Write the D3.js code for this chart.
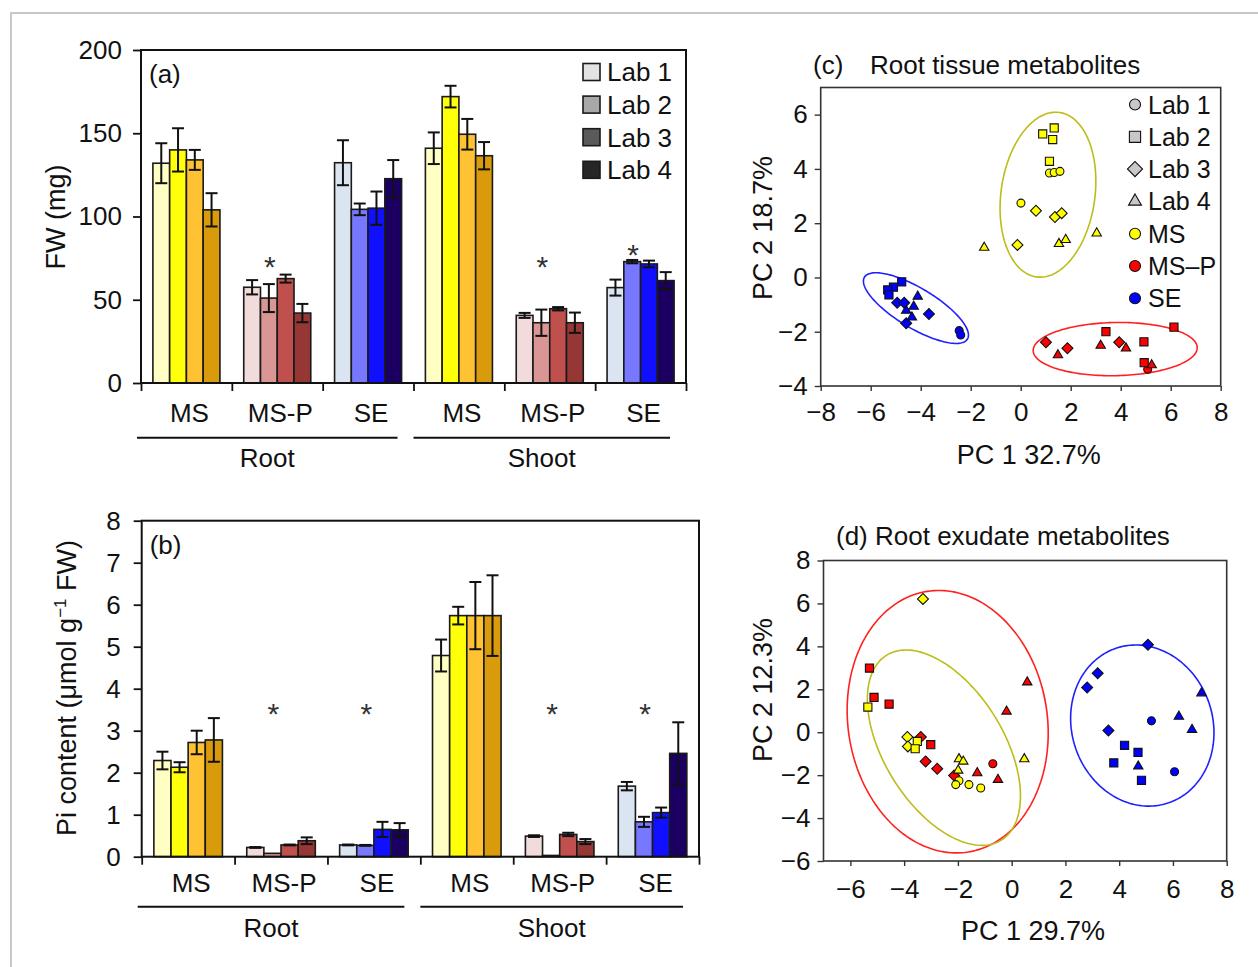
<!DOCTYPE html>
<html><head><meta charset="utf-8">
<script src="https://cdn.jsdelivr.net/npm/d3@7"></script>
<style>
body{margin:0;background:#fff;}
svg{display:block;font-family:"Liberation Sans",Arial,sans-serif;}
</style></head><body>
<svg id="chart" width="1258" height="967"></svg>
<script>
// ---------------- DATA ----------------
const labs = ["Lab 1","Lab 2","Lab 3","Lab 4"];
const treatments = ["MS","MS-P","SE"];
const tissues = ["Root","Shoot"];
const groupKeys = ["Root|MS","Root|MS-P","Root|SE","Shoot|MS","Shoot|MS-P","Shoot|SE"];
const fwTicks = [0,50,100,150,200];
const piTicks = [0,1,2,3,4,5,6,7,8];

// (a) fresh weight (mg), rows = groupKeys, cols = labs
const fwMean = [
  [132,140,134,104],
  [57.5,51,62.7,42],
  [132.3,104.3,105,122.7],
  [141,172,149.4,136.5],
  [40.6,36.2,44.6,36.2],
  [57.3,72.9,71.5,61.5]
];
const fwErr = [
  [12,13,6,10],
  [4.3,8.4,2.4,5.5],
  [13.5,3.5,10,11.2],
  [9.5,6.5,9.2,8.2],
  [1.5,7.9,1,6.1],
  [4.8,1,2,5.1]
];
const fwStars = [[1,75],[4,75],[5,82]];   // [group index, height]

// (b) Pi content
const piMean = [
  [2.29,2.13,2.72,2.78],
  [0.22,0.08,0.28,0.38],
  [0.28,0.27,0.65,0.64],
  [4.79,5.74,5.74,5.74],
  [0.49,0.03,0.53,0.36],
  [1.68,0.83,1.05,2.46]
];
const piErr = [
  [0.21,0.12,0.28,0.52],
  [0.01,0,0.01,0.08],
  [0.01,0.01,0.18,0.16],
  [0.38,0.21,0.8,0.96],
  [0.02,0,0.04,0.06],
  [0.1,0.12,0.12,0.74]
];
const piStars = [[1,3.61],[2,3.61],[4,3.61],[5,3.61]];

// (c) root tissue PCA: [lab, PC1, PC2]
const cMS = [
  [2,0.88,5.29],[2,1.34,5.51],[2,1.28,5.08],[2,1.15,4.28],
  [1,1.15,3.85],[1,1.34,3.87],[1,1.57,3.91],[1,0.01,2.74],
  [3,0.61,2.46],[3,1.37,2.23],[3,1.64,2.37],[3,-0.13,1.2],
  [4,1.53,1.24],[4,1.8,1.39],[4,3.04,1.63],[4,-1.46,1.1]
];
const cMSP = [
  [1,5.08,-3.38],
  [2,3.41,-2.0],[2,4.93,-2.37],[2,6.13,-1.83],[2,4.94,-3.14],
  [3,1.01,-2.39],[3,1.87,-2.61],[3,3.94,-2.39],
  [4,1.49,-2.86],[4,3.2,-2.51],[4,4.21,-2.61],[4,5.24,-3.23]
];
const cSE = [
  [2,-4.76,-0.16],[2,-5.09,-0.36],[2,-5.32,-0.46],[2,-5.27,-0.64],
  [3,-4.94,-0.93],[3,-4.66,-0.93],[3,-4.58,-1.69],[3,-3.67,-1.35],
  [4,-4.12,-0.70],[4,-4.28,-1.07],[4,-4.58,-1.22],[4,-4.35,-1.47],
  [1,-2.46,-1.96],[1,-2.4,-2.12]
];
// ellipses: [treatment, centre x, centre y, semi-axis A (x,y), semi-axis B (x,y)] in data units
const cEllipses = [
  [2,-4.19,-1.13, 2.06,-1.14, 0.41,0.63],
  [0, 1.09, 3.05, 0.46, 3.03, 1.86,-0.24],
  [1, 3.78,-2.64, 3.28, 0.05, 0, 0.98]
];
const cXTicks = [-8,-6,-4,-2,0,2,4,6,8];
const cYTicks = [-4,-2,0,2,4,6];

// (d) root exudate PCA
const dMS = [
  [3,-3.3,6.21],[2,-5.35,1.17],
  [3,-3.88,-0.22],[3,-3.86,-0.66],
  [2,-3.51,-0.43],[2,-3.59,-0.77],
  [4,-1.96,-1.25],[4,-1.8,-1.36],[4,-1.99,-1.78],[4,0.47,-1.25],
  [1,-1.96,-2.26],[1,-2.08,-2.44],[1,-1.59,-2.44],[1,-1.15,-2.6]
];
const dMSP = [
  [2,-5.29,2.99],[2,-5.12,1.62],[2,-4.56,1.31],[2,-3.01,-0.58],
  [3,-3.38,-0.22],[3,-3.2,-1.36],[3,-2.77,-1.7],[3,-2.14,-2.02],
  [4,0.58,2.33],[4,-0.19,0.97],[4,-1.28,-1.9],[4,-0.51,-2.21],
  [1,-0.7,-1.47]
];
const dSE = [
  [3,5.07,4.07],[3,3.2,2.75],[3,2.81,2.08],[3,3.6,0.08],
  [4,7.06,1.82],[4,6.22,0.73],[4,6.71,0.12],[4,4.71,-1.59],
  [1,5.2,0.53],[1,6.06,-1.84],
  [2,4.2,-0.61],[2,4.7,-0.94],[2,3.8,-1.43],[2,4.83,-2.24]
];
const dEllipses = [
  [1,-2.38, 0.49,-0.77,6.07, 3.66,0.73],
  [0,-2.52,-0.72,-2.13,4.31, 1.89,1.46],
  [2, 4.86, 0.31,-0.98,3.6, 2.48,1.06]
];
const dXTicks = [-6,-4,-2,0,2,4,6,8];
const dYTicks = [-6,-4,-2,0,2,4,6,8];

const legendLabels = ["Lab 1","Lab 2","Lab 3","Lab 4","MS","MS\u2013P","SE"];

// ---------------- STYLE ----------------
const barColors = [
  ["#FFFFC4","#FFFF0A","#FFC233","#D99A0B"],
  ["#F2DCDB","#D99694","#C0504D","#953735"],
  ["#DBE5F1","#7878FF","#1010FF","#1B0062"]
];
const legendGrays = ["#E3E3E3","#A8A8A8","#5A5A5A","#262626"];
const pointColors = ["#FFFF00","#FF0000","#0000FF"];
const ellipseColors = ["#BDBD1A","#FF2020","#2020FF"];
const INK = "#111";

const svg = d3.select("#chart");
svg.append("rect").attr("x",11).attr("y",13).attr("width",1260).attr("height",970)
  .attr("fill","none").attr("stroke","#c8c8c8").attr("stroke-width",2);

function styleAxis(sel, fs){
  sel.selectAll(".domain").remove();
  sel.selectAll("line").attr("stroke",INK).attr("stroke-width",1.8);
  sel.selectAll("text").attr("font-size",fs).attr("fill",INK).attr("font-family","Liberation Sans, Arial, sans-serif");
}

// ---------------- BAR PANELS ----------------
function barPanel(cfg){
  const g = svg.append("g");
  const x = d3.scaleBand().domain(groupKeys).range([cfg.left,cfg.right]).padding(0);
  const xb = d3.scaleBand().domain(labs).range([0,x.bandwidth()]).paddingInner(0).paddingOuter(0.71);
  const y = d3.scaleLinear().domain([0,cfg.yMax]).range([cfg.bottom,cfg.top]);
  const xBound = d3.scaleLinear().domain([0,groupKeys.length]).range([cfg.left,cfg.right]);

  groupKeys.forEach((k,gi)=>{
    const ti = gi % 3;
    labs.forEach((lab,li)=>{
      const v = cfg.means[gi][li], e = cfg.errs[gi][li];
      const bx = x(k)+xb(lab), bw = xb.bandwidth();
      g.append("rect").attr("x",bx).attr("y",y(v)).attr("width",bw).attr("height",y(0)-y(v))
        .attr("fill",barColors[ti][li]).attr("stroke","#1a1a1a").attr("stroke-width",1.6);
      if(e>0){
        const cx = bx+bw/2, cw = 6;
        const eg = g.append("g").attr("stroke",INK).attr("stroke-width",2);
        eg.append("line").attr("x1",cx).attr("x2",cx).attr("y1",y(v+e)).attr("y2",y(v-e));
        eg.append("line").attr("x1",cx-cw).attr("x2",cx+cw).attr("y1",y(v+e)).attr("y2",y(v+e));
        eg.append("line").attr("x1",cx-cw).attr("x2",cx+cw).attr("y1",y(v-e)).attr("y2",y(v-e));
      }
    });
  });
  // asterisks
  cfg.stars.forEach(([gi,v])=>{
    g.append("text").attr("x",x(groupKeys[gi])+xb("Lab 2")+xb.bandwidth()/2+1).attr("y",y(v))
      .attr("dy","0.62em").attr("text-anchor","middle").attr("font-size",30).attr("fill","#333").text("*");
  });
  // frame
  g.append("rect").attr("x",cfg.left).attr("y",cfg.top).attr("width",cfg.right-cfg.left).attr("height",cfg.bottom-cfg.top)
    .attr("fill","none").attr("stroke",INK).attr("stroke-width",2);
  // y axis
  g.append("g").attr("transform",`translate(${cfg.left},0)`)
    .call(d3.axisLeft(y).tickValues(cfg.ticks).tickSize(8).tickPadding(cfg.yPad).tickFormat(d3.format("d")))
    .call(s=>styleAxis(s,26));
  // boundary ticks
  g.append("g").attr("transform",`translate(0,${cfg.bottom})`)
    .call(d3.axisBottom(xBound).tickValues(d3.range(groupKeys.length+1)).tickSize(8).tickFormat(""))
    .call(s=>styleAxis(s,26));
  // category labels
  groupKeys.forEach(k=>{
    g.append("text").attr("x",x(k)+x.bandwidth()/2+3).attr("y",cfg.catY).attr("dy","0.36em")
      .attr("text-anchor","middle").attr("font-size",26).attr("fill",INK).text(k.split("|")[1]);
  });
  // tissue lines + labels
  tissues.forEach((t,i)=>{
    const x1 = xBound(i*3)-(i===0?4:0), x2 = xBound(i*3+3)-16;
    g.append("line").attr("x1",x1).attr("x2",x2).attr("y1",cfg.lineY).attr("y2",cfg.lineY)
      .attr("stroke",INK).attr("stroke-width",2);
    g.append("text").attr("x",(x1+x2)/2).attr("y",cfg.tissueY).attr("dy","0.36em")
      .attr("text-anchor","middle").attr("font-size",26).attr("fill",INK).text(t);
  });
  // panel letter
  g.append("text").attr("x",cfg.left+8).attr("y",cfg.top+24).attr("dy","0.36em")
    .attr("font-size",26).attr("fill",INK).text(cfg.letter);
  return {g,x,y};
}

const A = barPanel({left:141,right:686,top:50,bottom:383,yMax:200,ticks:fwTicks,yPad:11,
  means:fwMean,errs:fwErr,stars:fwStars,catY:413,lineY:437.7,tissueY:458,letter:"(a)"});
A.g.append("text").attr("transform","translate(55,217) rotate(-90)").attr("dy","0.36em")
  .attr("text-anchor","middle").attr("font-size",27).attr("fill",INK).text("FW (mg)");
// legend (a)
labs.forEach((l,i)=>{
  const cy = 72 + i*32.6;
  A.g.append("rect").attr("x",583).attr("y",cy-8.5).attr("width",17).attr("height",17)
    .attr("fill",legendGrays[i]).attr("stroke","#1a1a1a").attr("stroke-width",1.6);
  A.g.append("text").attr("x",607).attr("y",cy).attr("dy","0.36em").attr("font-size",26).attr("fill",INK).text(l);
});

const B = barPanel({left:141.7,right:699,top:520.7,bottom:856.7,yMax:8,ticks:piTicks,yPad:13,
  means:piMean,errs:piErr,stars:piStars,catY:882.7,lineY:906.7,tissueY:928,letter:"(b)"});
{
  const t = B.g.append("text").attr("transform","translate(66,688) rotate(-90)").attr("dy","0.36em")
    .attr("text-anchor","middle").attr("font-size",27).attr("fill",INK);
  t.append("tspan").text("Pi content (\u03bcmol g");
  t.append("tspan").attr("font-size",17).attr("dy","-0.55em").text("\u22121");
  t.append("tspan").attr("dy","0.35em").text(" FW)");
}

// ---------------- SCATTER PANELS ----------------
const shapeTypes = [d3.symbolCircle, d3.symbolSquare, d3.symbolSquare, d3.symbolTriangle];
const shapeAreas = [50, 66, 60, 38];
function marker(g, cx, cy, lab, fill, scale){
  g.append("path").attr("d", d3.symbol(shapeTypes[lab-1], shapeAreas[lab-1]*scale)())
    .attr("transform",`translate(${cx},${cy}) rotate(${lab===3?45:0})`)
    .attr("fill",fill).attr("stroke","#111").attr("stroke-width",1.1);
}

function scatterPanel(cfg){
  const g = svg.append("g");
  const x = d3.scaleLinear().domain(cfg.xDom).range([cfg.left,cfg.right]);
  const y = d3.scaleLinear().domain(cfg.yDom).range([cfg.bottom,cfg.top]);
  g.append("rect").attr("x",cfg.left).attr("y",cfg.top).attr("width",cfg.right-cfg.left).attr("height",cfg.bottom-cfg.top)
    .attr("fill","none").attr("stroke","#333").attr("stroke-width",1.6);
  cfg.ellipses.forEach(([ti,cx,cy,ax,ay,bx,by])=>{
    const pts = d3.range(0,361,2).map(a=>{const t=a*Math.PI/180;
      return [x(cx+ax*Math.cos(t)+bx*Math.sin(t)), y(cy+ay*Math.cos(t)+by*Math.sin(t))];});
    g.append("path").attr("d",d3.line()(pts)+"Z").attr("fill","none")
      .attr("stroke",ellipseColors[ti]).attr("stroke-width",1.6);
  });
  cfg.sets.forEach(([ti,arr])=>arr.forEach(([lab,px,py])=>marker(g,x(px),y(py),lab,pointColors[ti],1)));
  g.append("g").attr("transform",`translate(${cfg.left},0)`)
    .call(d3.axisLeft(y).tickValues(cfg.yTicks).tickSize(6).tickPadding(cfg.yPad))
    .call(s=>styleAxis(s,26));
  g.append("g").attr("transform",`translate(0,${cfg.bottom})`)
    .call(d3.axisBottom(x).tickValues(cfg.xTicks).tickSize(5).tickPadding(cfg.xPad))
    .call(s=>styleAxis(s,26));
  g.selectAll(".tick line").attr("stroke-width",1.4).attr("stroke","#333");
  g.append("text").attr("x",(cfg.left+cfg.right)/2+8).attr("y",cfg.xLabY).attr("dy","0.36em")
    .attr("text-anchor","middle").attr("font-size",27).attr("fill",INK).text(cfg.xLabel);
  g.append("text").attr("transform",`translate(${cfg.yLabX},${cfg.yLabY}) rotate(-90)`).attr("dy","0.36em")
    .attr("text-anchor","middle").attr("font-size",27).attr("fill",INK).text(cfg.yLabel);
  return {g,x,y};
}

const C = scatterPanel({left:820.7,right:1220.7,top:87.5,bottom:386,xDom:[-8,8],yDom:[-4,7],
  xTicks:cXTicks,yTicks:cYTicks,xPad:12,yPad:7,ellipses:cEllipses,
  sets:[[2,cSE],[1,cMSP],[0,cMS]],xLabel:"PC 1 32.7%",xLabY:454,yLabel:"PC 2 18.7%",yLabX:762,yLabY:228});
C.g.append("text").attr("x",813).attr("y",65).attr("dy","0.36em").attr("font-size",26).attr("fill",INK).text("(c)");
C.g.append("text").attr("x",870).attr("y",65).attr("dy","0.36em").attr("font-size",26).attr("fill",INK).text("Root tissue metabolites");
// legend (c)
legendLabels.forEach((l,i)=>{
  const cy = 104.5 + i*32.3;
  if(i<4) marker(C.g,1135,cy,i+1,"#C8C8C8",1.9);
  else marker(C.g,1135,cy,1,pointColors[i-4],1.9);
  C.g.append("text").attr("x",1148).attr("y",cy).attr("dy","0.36em").attr("font-size",25).attr("fill",INK).text(l);
});

const D = scatterPanel({left:823.5,right:1226.7,top:560.5,bottom:861,xDom:[-7,8],yDom:[-6,8],
  xTicks:dXTicks,yTicks:dYTicks,xPad:14,yPad:7,ellipses:dEllipses,
  sets:[[2,dSE],[1,dMSP],[0,dMS]],xLabel:"PC 1 29.7%",xLabY:930,yLabel:"PC 2 12.3%",yLabX:762,yLabY:690});
D.g.append("text").attr("x",836).attr("y",536).attr("dy","0.36em").attr("font-size",26).attr("fill",INK).text("(d) Root exudate metabolites");
</script>
</body></html>
